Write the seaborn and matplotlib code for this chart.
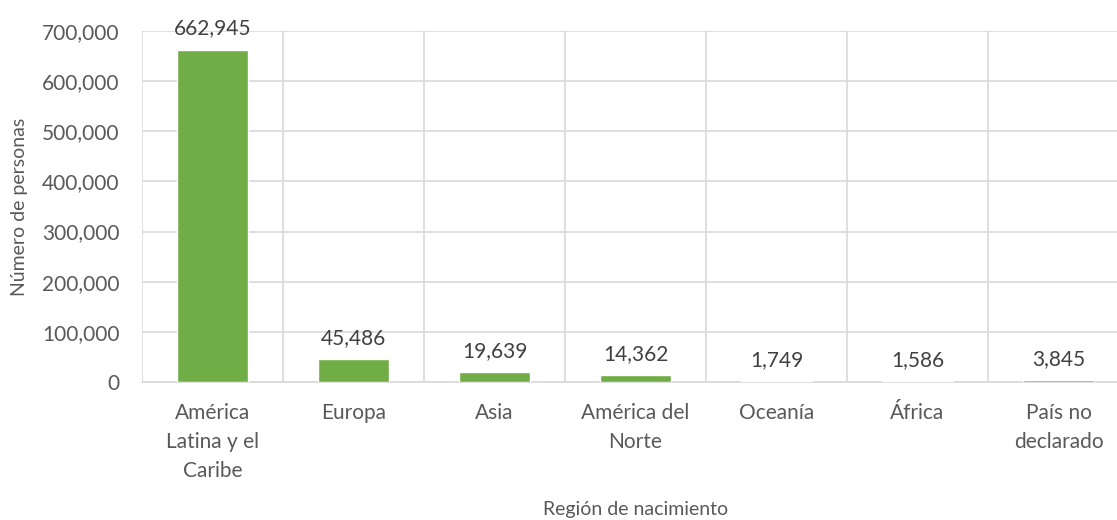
import matplotlib
matplotlib.use("Agg")
import matplotlib.pyplot as plt
import seaborn as sns
import pandas as pd
from matplotlib.ticker import FuncFormatter, FixedLocator

categories = ["América\nLatina y el\nCaribe", "Europa", "Asia", "América del\nNorte",
              "Oceanía", "África", "País no\ndeclarado"]
values = [662945, 45486, 19639, 14362, 1749, 1586, 3845]
yticks = [0, 100000, 200000, 300000, 400000, 500000, 600000, 700000]

sns.set_theme(style="white")
plt.rcParams['font.family'] = ['Lato', 'DejaVu Sans']
txt = "#595959"
grid = "#D9D9D9"

df = pd.DataFrame({"region": categories, "personas": values})

fig = plt.figure(figsize=(11.17, 5.2), dpi=100)
ax = fig.add_axes([142/1117, (520-382)/520, (1129-142)/1117, (382-31)/520])
sns.barplot(data=df, x="region", y="personas", color="#70AD47", width=0.5,
            saturation=1, ax=ax, zorder=3)

ax.set_xlim(-0.5, len(categories) - 0.5)
ax.set_ylim(0, 700000)
ax.set_yticks(yticks)
ax.yaxis.set_major_formatter(FuncFormatter(lambda v, p: f"{int(v):,}"))
ax.xaxis.set_minor_locator(FixedLocator([i - 0.5 for i in range(len(categories) + 1)]))
ax.grid(axis="y", which="major", color=grid, linewidth=1.2, zorder=0)
ax.grid(axis="x", which="minor", color=grid, linewidth=1.2, zorder=0)
ax.tick_params(axis="both", which="both", length=0, labelsize=15, colors=txt)
ax.tick_params(axis="x", pad=15)
ax.tick_params(axis="y", pad=16)
for lab in ax.get_xticklabels():
    lab.set_linespacing(1.58)
for s in ["top", "right", "left"]:
    ax.spines[s].set_visible(False)
ax.spines["bottom"].set_color(grid)
ax.spines["bottom"].set_linewidth(1.2)

for i, v in enumerate(values):
    ax.annotate(f"{v:,}", (i, v), xytext=(0, 8), textcoords="offset points",
                ha="center", va="bottom", fontsize=15, color="#404040")

ax.set_xlabel("Región de nacimiento", fontsize=14, color=txt)
ax.xaxis.set_label_coords((636-142)/987, -(501-382)/351)
ax.set_ylabel("Número de personas", fontsize=14, color=txt)
ax.yaxis.set_label_coords(-(142-28)/987, 0.5)

fig.savefig("out.png", dpi=100)
